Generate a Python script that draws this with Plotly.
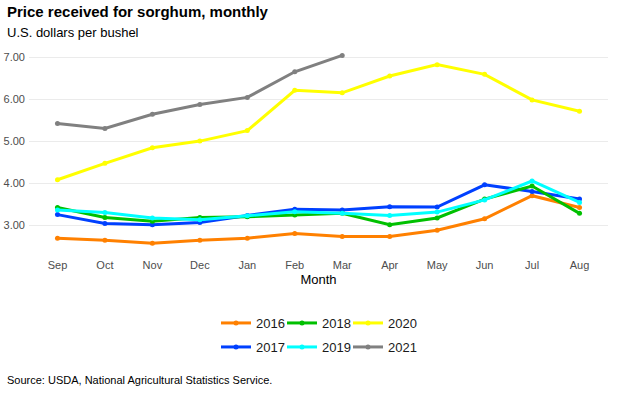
import plotly.graph_objects as go

months = ["Sep", "Oct", "Nov", "Dec", "Jan", "Feb", "Mar", "Apr", "May", "Jun", "Jul", "Aug"]
y2016 = [2.70, 2.65, 2.58, 2.65, 2.70, 2.81, 2.74, 2.74, 2.89, 3.16, 3.71, 3.43]
y2017 = [3.26, 3.05, 3.02, 3.07, 3.24, 3.39, 3.37, 3.45, 3.44, 3.97, 3.81, 3.63]
y2018 = [3.43, 3.19, 3.10, 3.19, 3.21, 3.25, 3.29, 3.02, 3.18, 3.63, 3.94, 3.29]
y2019 = [3.37, 3.31, 3.18, 3.14, 3.23, 3.33, 3.29, 3.24, 3.32, 3.61, 4.06, 3.55]
y2020 = [4.09, 4.48, 4.85, 5.01, 5.26, 6.22, 6.16, 6.56, 6.83, 6.60, 5.99, 5.72]
y2021 = [5.43, 5.31, 5.65, 5.88, 6.05, 6.66, 7.05]

FONT = "Liberation Sans, Arial, sans-serif"
W, H = 627, 394
ML, MR, MT, MB = 29, 19, 46, 141

# (name, values, colour, legend text x in px, legend row y in px)
series = [
    ("2016", y2016, "#FF8000", 257, 323),
    ("2017", y2017, "#0040FF", 257, 347),
    ("2018", y2018, "#00C000", 323, 323),
    ("2019", y2019, "#00FFFF", 323, 347),
    ("2020", y2020, "#FFFF00", 389, 323),
    ("2021", y2021, "#808080", 389, 347),
]

fig = go.Figure()
legends = {}
for i, (name, vals, color, lx, ly) in enumerate(series):
    key = "legend" if i == 0 else f"legend{i + 1}"
    fig.add_trace(go.Scatter(
        x=months[:len(vals)], y=vals, name=name, mode="lines+markers",
        line=dict(color=color, width=3), marker=dict(color=color, size=5),
        legend=key,
    ))
    legends[key] = dict(
        orientation="h", xref="container", yref="container", xanchor="left",
        yanchor="middle", x=(lx - 41) / W, y=1 - ly / H,
        font=dict(family=FONT, size=13, color="#1a1a1a"),
        itemwidth=30, bgcolor="rgba(0,0,0,0)",
    )

plot_h = H - MT - MB
plot_w = W - ML - MR
def py(pix):
    return (H - MB - pix) / plot_h
def px(pix):
    return (pix - ML) / plot_w

fig.update_layout(
    width=W, height=H,
    margin=dict(l=ML, r=MR, t=MT, b=MB, autoexpand=False),
    paper_bgcolor="white", plot_bgcolor="white",
    font=dict(family=FONT),
    showlegend=True,
    xaxis=dict(
        categoryorder="array", categoryarray=months, range=[-0.6, 11.6],
        showgrid=False, zeroline=False, showline=False, ticks="", automargin=False,
        ticklabelstandoff=4,
        tickfont=dict(family=FONT, size=11, color="#4d4d4d"),
        title=dict(text="Month", font=dict(family=FONT, size=13, color="black"), standoff=4),
    ),
    yaxis=dict(
        range=[2.346, 7.274], tickvals=[3, 4, 5, 6, 7], tickformat=".2f",
        showgrid=True, gridcolor="#EBEBEB", gridwidth=1.2, zeroline=False,
        showline=False, ticks="", automargin=False, ticklabelstandoff=3,
        tickfont=dict(family=FONT, size=11, color="#4d4d4d"),
    ),
    annotations=[
        dict(text="<b>Price received for sorghum, monthly</b>", xref="paper", yref="paper",
             x=px(5), y=py(12), showarrow=False, xanchor="left", yanchor="middle",
             font=dict(family=FONT, size=15, color="black")),
        dict(text="U.S. dollars per bushel", xref="paper", yref="paper",
             x=px(5), y=py(33), showarrow=False, xanchor="left", yanchor="middle",
             font=dict(family=FONT, size=13, color="black")),
        dict(text="Source: USDA, National Agricultural Statistics Service.", xref="paper", yref="paper",
             x=px(5), y=py(380), showarrow=False, xanchor="left", yanchor="middle",
             font=dict(family=FONT, size=11, color="black")),
    ],
)
fig.update_layout(**legends)

fig.write_html("out.html", config={"displayModeBar": False},
               post_script="document.body.style.margin='0';document.body.style.padding='0';")
